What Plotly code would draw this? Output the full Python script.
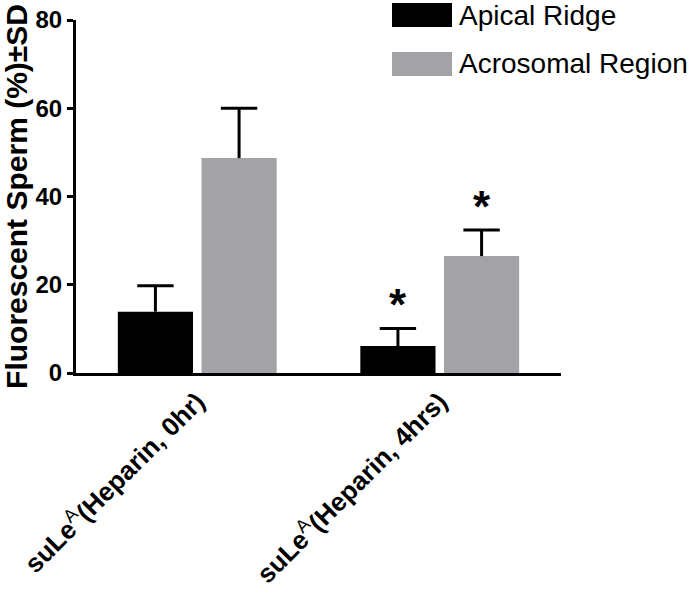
import plotly.graph_objects as go

categories = ["<b>suLe</b><sup>A</sup><b>(Heparin, 0hr)</b>",
              "<b>suLe</b><sup>A</sup><b>(Heparin, 4hrs)</b>"]
series_names = ["Apical Ridge", "Acrosomal Region"]
apical_mean = [13.9, 6.1]
apical_sd = [5.9, 4.0]
acro_mean = [48.7, 26.5]
acro_sd = [11.3, 5.9]
y_ticks = [0, 20, 40, 60, 80]
significance = ["", "*"]  # per category, both series

FONT = "Arial, Liberation Sans, sans-serif"
BLACK = "#000000"
GRAY = "#a3a3a7"

BAR_W = 0.31
GAP = 0.035
CAP = 0.075
xpos = list(range(len(categories)))

fig = go.Figure()
series = [
    (series_names[0], apical_mean, apical_sd, BLACK, -GAP / 2 - BAR_W),
    (series_names[1], acro_mean, acro_sd, GRAY, GAP / 2),
]
for name, means, sds, col, off in series:
    fig.add_trace(go.Bar(name=name, x=xpos, y=means, width=BAR_W, offset=off,
                         marker_color=col, marker_line_width=0, showlegend=False))
    ex, ey = [], []
    for i, (m, s) in enumerate(zip(means, sds)):
        xc = xpos[i] + off + BAR_W / 2
        ex += [xc, xc, None, xc - CAP, xc + CAP, None]
        ey += [m, m + s, None, m + s, m + s, None]
    fig.add_trace(go.Scatter(x=ex, y=ey, mode="lines", line=dict(color=BLACK, width=3),
                             showlegend=False, hoverinfo="skip", cliponaxis=False))
    for i, sig in enumerate(significance):
        if sig:
            fig.add_annotation(x=xpos[i] + off + BAR_W / 2, y=means[i] + sds[i],
                               xref="x", yref="y", text="<b>*</b>", showarrow=False,
                               yanchor="bottom", yshift=-3,
                               font=dict(family=FONT, size=44, color=BLACK))

# custom legend (large swatches)
W, H = 693, 593
PL, PR, PT, PB = 76, 561, 20, 373
legend_items = [(series_names[0], BLACK, 3, 27), (series_names[1], GRAY, 52, 76)]
for name, col, y0, y1 in legend_items:
    fig.add_shape(type="rect", xref="paper", yref="paper",
                  x0=(392 - PL) / (PR - PL), x1=(452 - PL) / (PR - PL),
                  y0=1 - (y1 - PT) / (PB - PT), y1=1 - (y0 - PT) / (PB - PT),
                  fillcolor=col, line_width=0)
    fig.add_annotation(xref="paper", yref="paper",
                       x=(457 - PL) / (PR - PL), y=1 - ((y0 + y1) / 2 - PT) / (PB - PT),
                       text=name, showarrow=False, xanchor="left", yanchor="middle",
                       font=dict(family=FONT, size=28, color=BLACK))

fig.update_layout(
    width=W, height=H,
    margin=dict(l=PL, r=W - PR, t=PT, b=H - PB, autoexpand=False),
    paper_bgcolor="white", plot_bgcolor="white",
    barmode="overlay",
    font=dict(family=FONT, color=BLACK),
    showlegend=False,
)
fig.update_xaxes(
    showline=True, linecolor=BLACK, linewidth=3, ticks="", showgrid=False,
    tickvals=xpos, ticktext=categories,
    tickangle=-45, tickfont=dict(family=FONT, size=26, color=BLACK),
    range=[-0.5, 1.5], zeroline=False, automargin=False,
)
fig.update_yaxes(
    range=[0, 80], tickvals=y_ticks, showline=True, linecolor=BLACK, linewidth=3,
    ticks="outside", ticklen=6, tickwidth=3, tickcolor=BLACK, showgrid=False, zeroline=False,
    tickfont=dict(family=FONT, size=24, color=BLACK, weight="bold"), automargin=False,
    title=dict(text="<b>Fluorescent Sperm (%)±SD</b>",
               font=dict(family=FONT, size=30, color=BLACK), standoff=6),
)

fig.write_html("out.html", config={"displayModeBar": False},
               post_script="document.body.style.margin='0';")
